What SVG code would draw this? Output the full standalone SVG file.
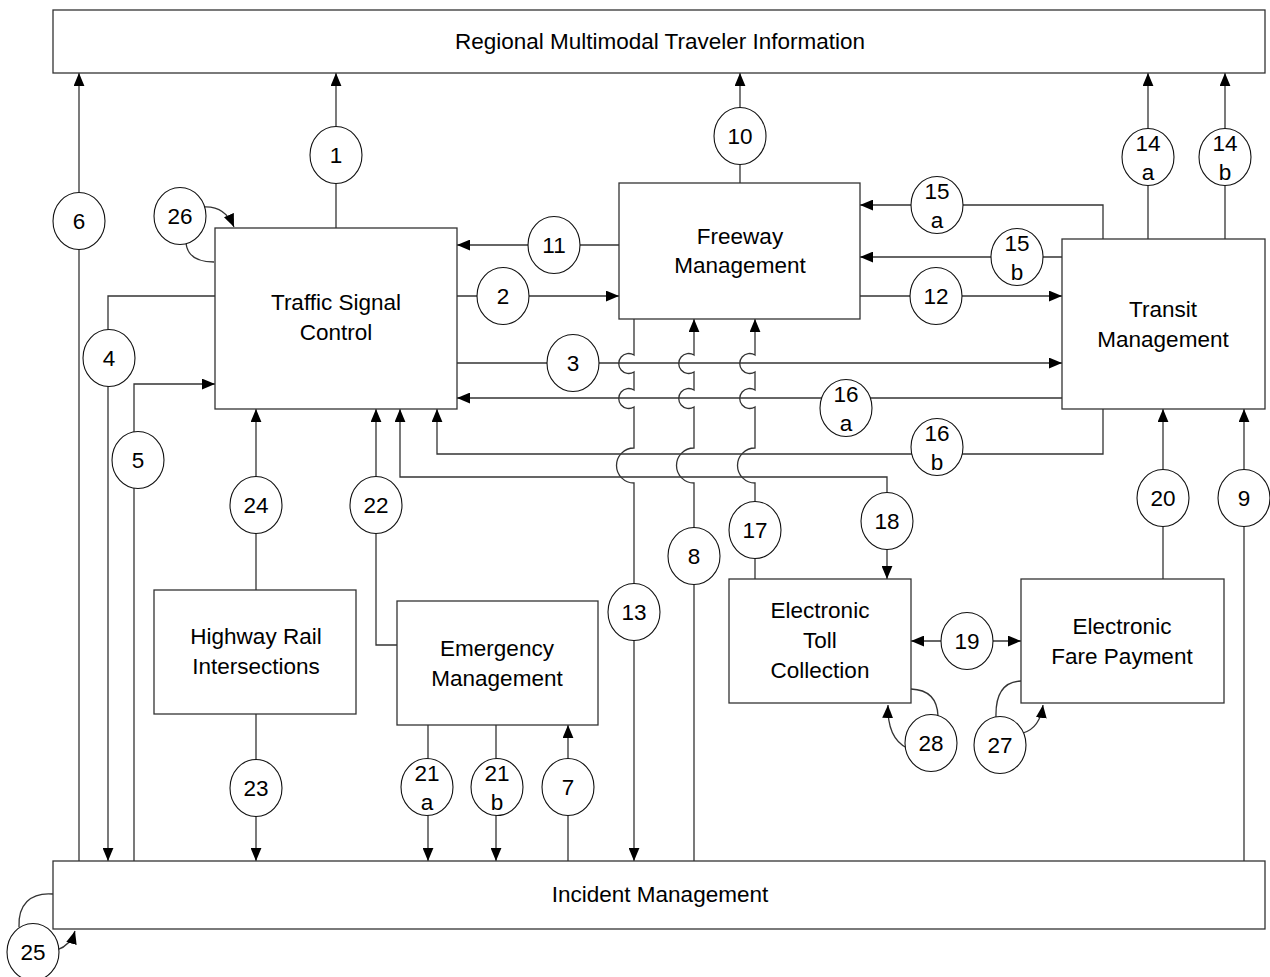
<svg xmlns="http://www.w3.org/2000/svg" width="1270" height="977" viewBox="0 0 1270 977">
  <style>
    .box { fill: #ffffff; stroke: #333333; stroke-width: 1.3; }
    .lbl { font-family: "Liberation Sans", Arial, sans-serif; font-size: 22.5px; fill: #000000; text-anchor: middle; }
    .num { fill: #ffffff; stroke: #111111; stroke-width: 1.1; }
    .wire { fill: none; stroke: #333333; stroke-width: 1.3; }
  </style>
  <defs>
    <marker id="arrow" viewBox="0 0 12 10" refX="12" refY="5" markerWidth="13" markerHeight="11" markerUnits="userSpaceOnUse" orient="auto-start-reverse">
      <path d="M0,0 L12,5 L0,10 z" fill="#000000"/>
    </marker>
  </defs>

  <rect width="1270" height="977" fill="#ffffff"/>

  <!-- connectors -->
  <g id="connectors" class="wire">
    <path d="M336,228 V73" marker-end="url(#arrow)"/>
    <path d="M79,861 V73" marker-end="url(#arrow)"/>
    <path d="M740,183 V73" marker-end="url(#arrow)"/>
    <path d="M1148,239 V73" marker-end="url(#arrow)"/>
    <path d="M1225,239 V73" marker-end="url(#arrow)"/>
    <path d="M619,245 H457" marker-end="url(#arrow)"/>
    <path d="M457,296 H619" marker-end="url(#arrow)"/>
    <path d="M860,296 H1062" marker-end="url(#arrow)"/>
    <path d="M1103,239 V205 H860" marker-end="url(#arrow)"/>
    <path d="M1062,257 H860" marker-end="url(#arrow)"/>
    <path d="M457,363 H1062" marker-end="url(#arrow)"/>
    <path d="M1062,398 H457" marker-end="url(#arrow)"/>
    <path d="M1103,409 V454 H437 V409" marker-end="url(#arrow)"/>
    <path d="M400,409 V477 H887 V579" marker-start="url(#arrow)" marker-end="url(#arrow)"/>
    <path d="M215,296 H108 V861" marker-end="url(#arrow)"/>
    <path d="M134,861 V384 H215" marker-end="url(#arrow)"/>
    <path d="M256,590 V409" marker-end="url(#arrow)"/>
    <path d="M397,645 H376 V409" marker-end="url(#arrow)"/>
    <path d="M256,714 V861" marker-end="url(#arrow)"/>
    <path d="M428,725 V861" marker-end="url(#arrow)"/>
    <path d="M496,725 V861" marker-end="url(#arrow)"/>
    <path d="M568,861 V725" marker-end="url(#arrow)"/>
    <path d="M1163,579 V409" marker-end="url(#arrow)"/>
    <path d="M1244,861 V409" marker-end="url(#arrow)"/>
    <path d="M911,641 H1021" marker-start="url(#arrow)" marker-end="url(#arrow)"/>
    <!-- verticals hopping over the horizontal runs -->
    <path d="M634,319 V355 A10,10 0 1 0 634,372 V390 A10,10 0 1 0 634,407 V448 A17.5,17.5 0 0 0 634,483 V861" marker-end="url(#arrow)"/>
    <path d="M694,861 V483 A17.5,17.5 0 0 1 694,448 V407 A10,10 0 1 1 694,390 V372 A10,10 0 1 1 694,355 V319" marker-end="url(#arrow)"/>
    <path d="M755,579 V483 A17.5,17.5 0 0 1 755,448 V407 A10,10 0 1 1 755,390 V372 A10,10 0 1 1 755,355 V319" marker-end="url(#arrow)"/>
    <!-- self loops -->
    <path d="M214,262 Q188,262 186,243"/>
    <path d="M204,207 Q225,206 234,227" marker-end="url(#arrow)"/>
    <path d="M53,894 C30,892 18,905 19,927"/>
    <path d="M57,950 Q71,945 75,931" marker-end="url(#arrow)"/>
    <path d="M911,689 Q937,690 938,716"/>
    <path d="M907,748 Q887,738 888,705" marker-end="url(#arrow)"/>
    <path d="M1021,681 Q995,682 996,717"/>
    <path d="M1023,733 Q1040,728 1043,705" marker-end="url(#arrow)"/>
  </g>

  <!-- boxes -->
  <g id="rmti"><rect class="box" x="53" y="10" width="1212" height="63"/><text class="lbl" x="660" y="49">Regional Multimodal Traveler Information</text></g>
  <g id="tsc"><rect class="box" x="215" y="228" width="242" height="181"/><text class="lbl" x="336" y="310">Traffic Signal</text><text class="lbl" x="336" y="340">Control</text></g>
  <g id="fm"><rect class="box" x="619" y="183" width="241" height="136"/><text class="lbl" x="740" y="244">Freeway</text><text class="lbl" x="740" y="273">Management</text></g>
  <g id="tm"><rect class="box" x="1062" y="239" width="203" height="170"/><text class="lbl" x="1163" y="317">Transit</text><text class="lbl" x="1163" y="347">Management</text></g>
  <g id="hri"><rect class="box" x="154" y="590" width="202" height="124"/><text class="lbl" x="256" y="644">Highway Rail</text><text class="lbl" x="256" y="674">Intersections</text></g>
  <g id="em"><rect class="box" x="397" y="601" width="201" height="124"/><text class="lbl" x="497" y="656">Emergency</text><text class="lbl" x="497" y="686">Management</text></g>
  <g id="etc"><rect class="box" x="729" y="579" width="182" height="124"/><text class="lbl" x="820" y="618">Electronic</text><text class="lbl" x="820" y="648">Toll</text><text class="lbl" x="820" y="678">Collection</text></g>
  <g id="efp"><rect class="box" x="1021" y="579" width="203" height="124"/><text class="lbl" x="1122" y="634">Electronic</text><text class="lbl" x="1122" y="664">Fare Payment</text></g>
  <g id="im"><rect class="box" x="53" y="861" width="1212" height="68"/><text class="lbl" x="660" y="902">Incident Management</text></g>

  <!-- flow labels -->
  <g id="f1"><ellipse class="num" cx="336" cy="155" rx="26" ry="28.5"/><text class="lbl" x="336" y="163">1</text></g>
  <g id="f2"><ellipse class="num" cx="503" cy="296" rx="26" ry="28.5"/><text class="lbl" x="503" y="304">2</text></g>
  <g id="f3"><ellipse class="num" cx="573" cy="363" rx="26" ry="28.5"/><text class="lbl" x="573" y="371">3</text></g>
  <g id="f4"><ellipse class="num" cx="109" cy="358" rx="26" ry="28.5"/><text class="lbl" x="109" y="366">4</text></g>
  <g id="f5"><ellipse class="num" cx="138" cy="460" rx="26" ry="28.5"/><text class="lbl" x="138" y="468">5</text></g>
  <g id="f6"><ellipse class="num" cx="79" cy="221" rx="26" ry="28.5"/><text class="lbl" x="79" y="229">6</text></g>
  <g id="f7"><ellipse class="num" cx="568" cy="787" rx="26" ry="28.5"/><text class="lbl" x="568" y="795">7</text></g>
  <g id="f8"><ellipse class="num" cx="694" cy="556" rx="26" ry="28.5"/><text class="lbl" x="694" y="564">8</text></g>
  <g id="f9"><ellipse class="num" cx="1244" cy="498" rx="26" ry="28.5"/><text class="lbl" x="1244" y="506">9</text></g>
  <g id="f10"><ellipse class="num" cx="740" cy="136" rx="26" ry="28.5"/><text class="lbl" x="740" y="144">10</text></g>
  <g id="f11"><ellipse class="num" cx="554" cy="245" rx="26" ry="28.5"/><text class="lbl" x="554" y="253">11</text></g>
  <g id="f12"><ellipse class="num" cx="936" cy="296" rx="26" ry="28.5"/><text class="lbl" x="936" y="304">12</text></g>
  <g id="f13"><ellipse class="num" cx="634" cy="612" rx="26" ry="28.5"/><text class="lbl" x="634" y="620">13</text></g>
  <g id="f14a"><ellipse class="num" cx="1148" cy="157" rx="26" ry="28.5"/><text class="lbl" x="1148" y="151">14</text><text class="lbl" x="1148" y="180">a</text></g>
  <g id="f14b"><ellipse class="num" cx="1225" cy="157" rx="26" ry="28.5"/><text class="lbl" x="1225" y="151">14</text><text class="lbl" x="1225" y="180">b</text></g>
  <g id="f15a"><ellipse class="num" cx="937" cy="205" rx="26" ry="28.5"/><text class="lbl" x="937" y="199">15</text><text class="lbl" x="937" y="228">a</text></g>
  <g id="f15b"><ellipse class="num" cx="1017" cy="257" rx="26" ry="28.5"/><text class="lbl" x="1017" y="251">15</text><text class="lbl" x="1017" y="280">b</text></g>
  <g id="f16a"><ellipse class="num" cx="846" cy="408" rx="26" ry="28.5"/><text class="lbl" x="846" y="402">16</text><text class="lbl" x="846" y="431">a</text></g>
  <g id="f16b"><ellipse class="num" cx="937" cy="447" rx="26" ry="28.5"/><text class="lbl" x="937" y="441">16</text><text class="lbl" x="937" y="470">b</text></g>
  <g id="f17"><ellipse class="num" cx="755" cy="530" rx="26" ry="28.5"/><text class="lbl" x="755" y="538">17</text></g>
  <g id="f18"><ellipse class="num" cx="887" cy="521" rx="26" ry="28.5"/><text class="lbl" x="887" y="529">18</text></g>
  <g id="f19"><ellipse class="num" cx="967" cy="641" rx="26" ry="28.5"/><text class="lbl" x="967" y="649">19</text></g>
  <g id="f20"><ellipse class="num" cx="1163" cy="498" rx="26" ry="28.5"/><text class="lbl" x="1163" y="506">20</text></g>
  <g id="f21a"><ellipse class="num" cx="427" cy="787" rx="26" ry="28.5"/><text class="lbl" x="427" y="781">21</text><text class="lbl" x="427" y="810">a</text></g>
  <g id="f21b"><ellipse class="num" cx="497" cy="787" rx="26" ry="28.5"/><text class="lbl" x="497" y="781">21</text><text class="lbl" x="497" y="810">b</text></g>
  <g id="f22"><ellipse class="num" cx="376" cy="505" rx="26" ry="28.5"/><text class="lbl" x="376" y="513">22</text></g>
  <g id="f23"><ellipse class="num" cx="256" cy="788" rx="26" ry="28.5"/><text class="lbl" x="256" y="796">23</text></g>
  <g id="f24"><ellipse class="num" cx="256" cy="505" rx="26" ry="28.5"/><text class="lbl" x="256" y="513">24</text></g>
  <g id="f25"><ellipse class="num" cx="33" cy="952" rx="26" ry="28.5"/><text class="lbl" x="33" y="960">25</text></g>
  <g id="f26"><ellipse class="num" cx="180" cy="216" rx="26" ry="28.5"/><text class="lbl" x="180" y="224">26</text></g>
  <g id="f27"><ellipse class="num" cx="1000" cy="745" rx="26" ry="28.5"/><text class="lbl" x="1000" y="753">27</text></g>
  <g id="f28"><ellipse class="num" cx="931" cy="743" rx="26" ry="28.5"/><text class="lbl" x="931" y="751">28</text></g>
</svg>
